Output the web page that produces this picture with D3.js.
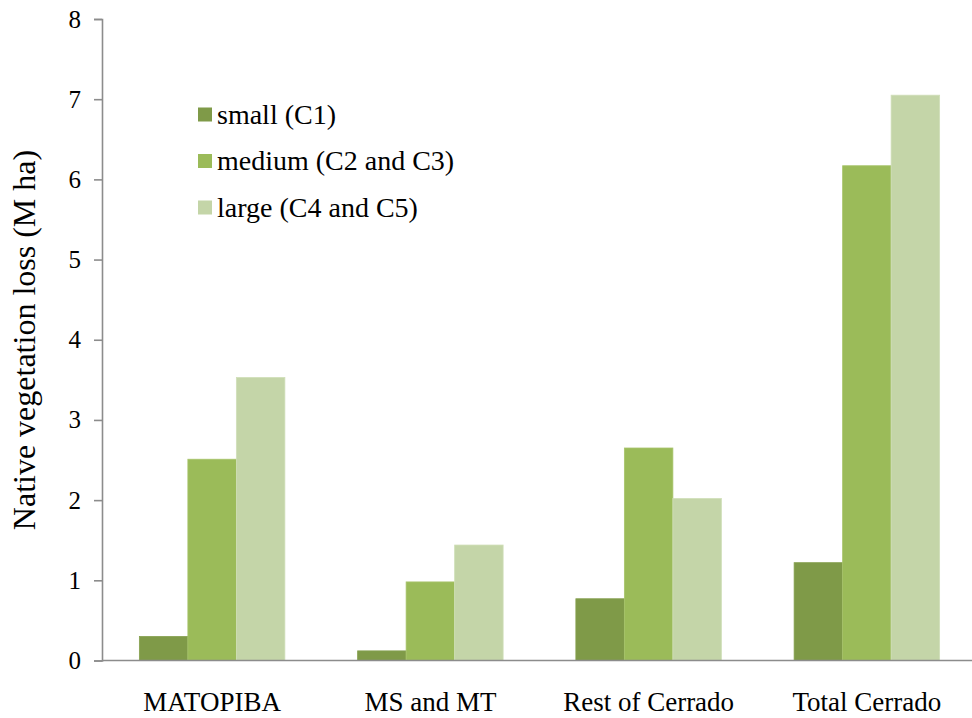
<!DOCTYPE html>
<html>
<head>
<meta charset="utf-8">
<script src="https://cdn.jsdelivr.net/npm/d3@7/dist/d3.min.js"></script>
<style>
  html, body { margin: 0; padding: 0; background: #fff; }
</style>
</head>
<body>
<svg id="chart" width="972" height="718"></svg>
<script>
// Regions of the Cerrado and native vegetation loss (M ha) by property size class
const regions = ["MATOPIBA", "MS and MT", "Rest of Cerrado", "Total Cerrado"];
const seriesNames = ["small (C1)", "medium (C2 and C3)", "large (C4 and C5)"];
const small  = [0.30, 0.12, 0.77, 1.22];
const medium = [2.51, 0.98, 2.65, 6.17];
const large  = [3.53, 1.44, 2.02, 7.05];
const yTicks = [0, 1, 2, 3, 4, 5, 6, 7, 8];
const colors = ["#7f9a48", "#9bbb59", "#c4d5a8"];
const edgeColors = ["#86a04f", "#a8c46c", "#d0dfb8"];

const seriesValues = [small, medium, large];
const FONT = "'Liberation Serif', 'Times New Roman', 'DejaVu Serif', serif";

const svg = d3.select("#chart").attr("font-family", FONT);
const x0 = 103, x1 = 976, yTop = 19, yBase = 660.5;

const x = d3.scaleBand().domain(regions).range([x0, x1]).padding(0);
const barW = x.bandwidth() / 4.5;          // three bars plus a 150% gap
const xs = d3.scaleBand().domain(d3.range(3)).range([0, barW * 3]);
const y = d3.scaleLinear().domain([0, 8]).range([yBase, yTop]);

// bars
const groups = svg.append("g").selectAll("g")
  .data(regions)
  .join("g")
  .attr("transform", d => `translate(${x(d) + (x.bandwidth() - barW * 3) / 2},0)`);

groups.selectAll("rect")
  .data((d, i) => seriesValues.map((vals, s) => ({ s, v: vals[i] })))
  .join("rect")
  .attr("x", d => xs(d.s))
  .attr("width", xs.bandwidth())
  .attr("y", d => y(d.v))
  .attr("height", d => yBase - y(d.v))
  .attr("fill", d => colors[d.s])
  .attr("stroke", d => edgeColors[d.s])
  .attr("stroke-width", 0.8);

// y axis
const yAxis = svg.append("g")
  .attr("transform", `translate(${x0 - 1},0)`)
  .call(d3.axisLeft(y).tickValues(yTicks).tickFormat(d3.format("d")).tickSize(8).tickPadding(13));
yAxis.attr("font-family", FONT);
yAxis.select(".domain").attr("stroke", "#8c8c8c").attr("stroke-width", 1.6);
yAxis.selectAll(".tick line").attr("stroke", "#8c8c8c").attr("stroke-width", 1.6);
yAxis.selectAll(".tick text")
  .style("font-family", FONT)
  .attr("font-size", 25)
  .attr("fill", "#000");

// x axis baseline and category labels
const xAxis = svg.append("g")
  .attr("transform", `translate(0,${yBase})`)
  .call(d3.axisBottom(x).tickSize(0).tickPadding(31));
xAxis.attr("font-family", FONT);
xAxis.select(".domain").attr("stroke", "#8c8c8c").attr("stroke-width", 1.6)
  .attr("d", `M${x0 - 1},0H972`);
xAxis.selectAll(".tick text")
  .style("font-family", FONT)
  .attr("font-size", 27)
  .attr("fill", "#000");

// y axis title
svg.append("text")
  .attr("transform", `translate(35,340) rotate(-90)`)
  .attr("text-anchor", "middle")
  .style("font-family", FONT)
  .attr("font-size", 32)
  .attr("fill", "#000")
  .text("Native vegetation loss (M ha)");

// legend
const legend = svg.append("g").attr("transform", "translate(198,0)");
const rowY = [114.5, 161, 207.5];
seriesNames.forEach((name, i) => {
  legend.append("rect")
    .attr("x", 0).attr("y", rowY[i] - 7)
    .attr("width", 14).attr("height", 14)
    .attr("fill", colors[i]);
  legend.append("text")
    .attr("x", 19).attr("y", rowY[i])
    .attr("dy", "0.33em")
    .style("font-family", FONT)
    .attr("font-size", 28)
    .attr("fill", "#000")
    .text(name);
});
</script>
</body>
</html>
